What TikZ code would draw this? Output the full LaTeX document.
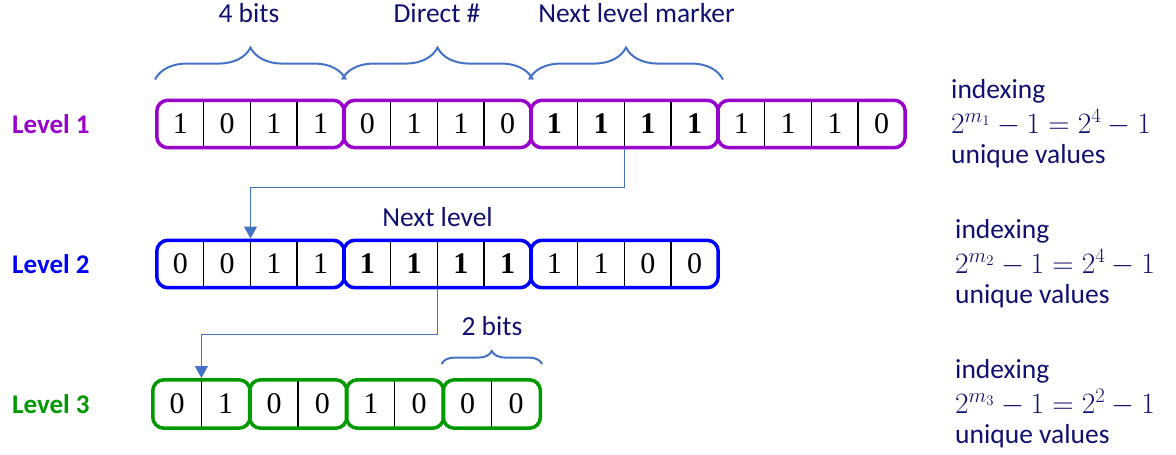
\RequirePackage{fix-cm}
\documentclass[tikz,border=0pt]{standalone}
\usepackage{fontspec}
\newfontfamily\calibri{Carlito}
\newfontfamily\cambria{Liberation Serif}
\usetikzlibrary{arrows.meta, positioning, fit, decorations.pathreplacing}

\definecolor{lvone}{RGB}{153,0,204}
\definecolor{lvtwo}{RGB}{0,0,255}
\definecolor{lvthree}{RGB}{0,153,0}
\definecolor{navy}{RGB}{16,16,112}
\definecolor{linkblue}{RGB}{68,114,196}

\tikzset{
  bit/.style={inner sep=0pt, minimum height=47pt, font=\cambria\fontsize{30}{34}\selectfont},
  grp/.style={draw, line width=3.5pt, rounded corners=11pt, inner sep=0pt},
  divider/.style={line width=1.2pt},
  lvl/.style={anchor=base west, inner sep=0pt, font=\calibri\bfseries\fontsize{27}{32}\selectfont},
  note/.style={anchor=base, text=navy, inner sep=0pt, font=\calibri\fontsize{27.5}{33}\selectfont},
  brc/.style={decorate, decoration={brace, amplitude=#1}, draw=linkblue, line width=2pt},
  brc/.default=32pt,
  link/.style={draw=linkblue, line width=1.2pt, -{Triangle[width=13pt,length=12pt]}},
}

\begin{document}
\begin{tikzpicture}[x=1pt, y=-1pt]
    \useasboundingbox (0,0) rectangle (1176,455);
    % Level labels
    \node[lvl, text=lvone] (lab1) at (12,133) {Level 1};
    \node[lvl, text=lvtwo] (lab2) at (12,273) {Level 2};
    \node[lvl, text=lvthree] (lab3) at (12,413) {Level 3};
    % Level 1 bits
    \foreach \b [count=\i from 0] in {1,0,1,1,0,1,1,0,{\bfseries 1},{\bfseries 1},{\bfseries 1},{\bfseries 1},1,1,1,0}
        \node[bit, minimum width=46.75pt] (l1c\i) at ({157+46.75*(\i+0.5)},124) {\b};
    \foreach \i in {1,2,3,5,6,7,9,10,11,13,14,15}
        \draw[divider] (l1c\i.north west) -- (l1c\i.south west);
    \foreach \g [evaluate=\g as \a using int(4*\g-4), evaluate=\g as \z using int(4*\g-1)] in {1,...,4}
        \node[grp, draw=lvone, fit=(l1c\a)(l1c\z)] (l1g\g) {};
    % Level 2 bits
    \foreach \b [count=\i from 0] in {0,0,1,1,{\bfseries 1},{\bfseries 1},{\bfseries 1},{\bfseries 1},1,1,0,0}
        \node[bit, minimum width=46.75pt] (l2c\i) at ({157+46.75*(\i+0.5)},264) {\b};
    \foreach \i in {1,2,3,5,6,7,9,10,11}
        \draw[divider] (l2c\i.north west) -- (l2c\i.south west);
    \foreach \g [evaluate=\g as \a using int(4*\g-4), evaluate=\g as \z using int(4*\g-1)] in {1,...,3}
        \node[grp, draw=lvtwo, fit=(l2c\a)(l2c\z)] (l2g\g) {};
    % Level 3 bits
    \foreach \b [count=\i from 0] in {0,1,0,0,1,0,0,0}
        \node[bit, minimum width=48.4pt, minimum height=48pt] (l3c\i) at ({153+48.4*(\i+0.5)},404) {\b};
    \foreach \i in {1,3,5,7}
        \draw[divider] (l3c\i.north west) -- (l3c\i.south west);
    \foreach \g [evaluate=\g as \a using int(2*\g-2), evaluate=\g as \z using int(2*\g-1)] in {1,...,4}
        \node[grp, draw=lvthree, fit=(l3c\a)(l3c\z)] (l3g\g) {};
    % Braces
    \draw[brc] ([yshift=19pt]l1g1.north west) -- ([yshift=19pt]l1g1.north east);
    \draw[brc] ([yshift=19pt]l1g2.north west) -- ([yshift=19pt]l1g2.north east);
    \draw[brc] ([yshift=19pt]l1g3.north west) -- ([xshift=3pt,yshift=19pt]l1g3.north east);
    \draw[brc=13pt] ([yshift=14pt]l3g4.north west) -- ([yshift=14pt]l3g4.north east);
    \node[note] (bitsA) at (249,23) {4 bits};
    \node[note] (direct) at (437,22) {Direct \#};
    \node[note] (marker) at (636.5,23) {Next level marker};
    \node[note] (nextlvl) at (437.5,226) {Next level};
    \node[note] (bitsB) at (492,335) {2 bits};
    % Links to the next level
    \draw[link] (l1g3.south) -- ++(0,38) -| (l2g1.north);
    \draw[link] (l2g2.south) -- ++(0,45) -| (l3g1.north);
    % Indexing notes
    \foreach \k/\y/\x/\e in {1/98/951/4, 2/238/955/4, 3/378/955/2} {
        \node[note, anchor=base west] (idx\k) at (\x,\y) {indexing};
        \node[note, anchor=base west, font=\fontsize{29.5}{35}\selectfont] (frm\k) at (\x,\y+35) {$2^{m_\k}-1=2^\e-1$};
        \node[note, anchor=base west] (unq\k) at (\x,\y+65) {unique values};
    }
\end{tikzpicture}
\end{document}
